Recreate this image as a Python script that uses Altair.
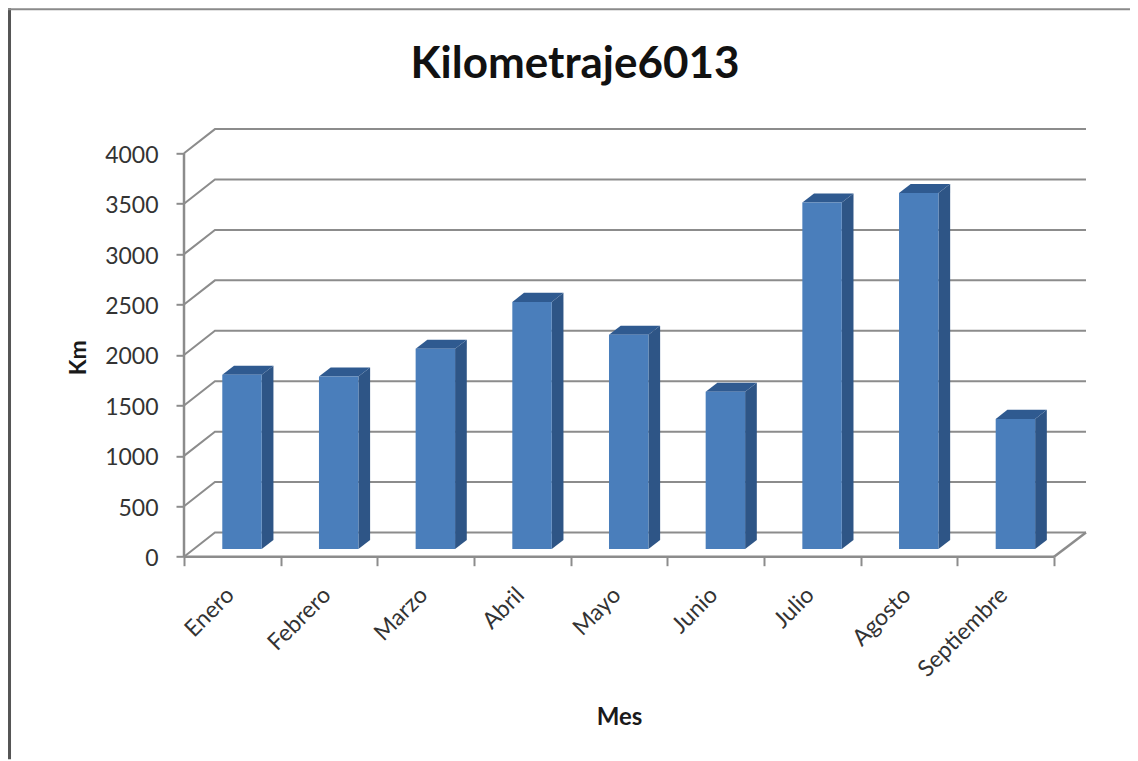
import altair as alt
import pandas as pd

months = ["Enero", "Febrero", "Marzo", "Abril", "Mayo", "Junio", "Julio", "Agosto", "Septiembre"]
km = [1727, 1710, 1985, 2450, 2125, 1560, 3435, 3530, 1290]
y_ticks = [0, 500, 1000, 1500, 2000, 2500, 3000, 3500, 4000]
x_ticks = list(range(10))

FONT = "Lato"
GRID = "#8c8c8c"
TEXT = "#1a1a1a"
DX_WALL, DY_WALL = 0.32, 240
BAR_L, BAR_W, BAR_BASE = 0.396, 0.408, 76
DX_BAR, DY_BAR = 0.121, 90
XMAX, YMAX = 9.33, 4238

xs = alt.Scale(domain=[0, XMAX], nice=False, zero=False)
ys = alt.Scale(domain=[0, YMAX], nice=False, zero=False)

# walls and floor
rows = []
for v in y_ticks:
    rows += [dict(g=v, x=0, y=v), dict(g=v, x=DX_WALL, y=v + DY_WALL), dict(g=v, x=XMAX, y=v + DY_WALL)]
grid_df = pd.DataFrame(rows)
frame_df = pd.DataFrame([
    dict(g="left", x=0, y=0), dict(g="left", x=0, y=4000),
    dict(g="front", x=0, y=0), dict(g="front", x=9, y=0),
    dict(g="floor", x=9, y=0), dict(g="floor", x=XMAX, y=DY_WALL),
])

front, side, top, labels = [], [], [], []
for i, (m, v) in enumerate(zip(months, km)):
    xl, xr, b, t = i + BAR_L, i + BAR_L + BAR_W, BAR_BASE, BAR_BASE + v
    front.append(dict(m=m, x=xl, x2=xr, y=b, y2=t))
    side += [dict(m=m, x=xr, y=t, y2=b), dict(m=m, x=xr + DX_BAR, y=t + DY_BAR, y2=b + DY_BAR)]
    top += [dict(m=m, x=xl, y=t, y2=t), dict(m=m, x=xl + DX_BAR, y=t + DY_BAR, y2=t),
            dict(m=m, x=xr, y=t + DY_BAR, y2=t), dict(m=m, x=xr + DX_BAR, y=t + DY_BAR, y2=t + DY_BAR)]
    labels.append(dict(m=m, x=i + 0.5, y=0))

X = alt.X("x:Q", scale=xs, title="Mes")
Y = alt.Y("y:Q", scale=ys, title="Km")

grid = alt.Chart(grid_df).mark_line(color=GRID, strokeWidth=2).encode(X, Y, detail="g:N")
frame = alt.Chart(frame_df).mark_line(color=GRID, strokeWidth=2.5).encode(X, Y, detail="g:N")

axes = alt.Chart(pd.DataFrame(dict(x=[0], y=[0]))).mark_point(opacity=0).encode(
    x=alt.X("x:Q", scale=xs, title="Mes", axis=alt.Axis(
        values=x_ticks, labels=False, domain=False, grid=False, tickSize=9, tickWidth=2, tickColor=GRID,
        titleFont=FONT, titleFontSize=24, titleFontWeight="bold", titleColor=TEXT,
        titleX=435, titleY=149)),
    y=alt.Y("y:Q", scale=ys, title="Km", axis=alt.Axis(
        values=y_ticks, domain=False, grid=False, tickSize=8, tickWidth=2, tickColor=GRID,
        labelFont=FONT, labelFontSize=23, labelColor="#333333", labelPadding=18, labelOffset=2, format="d",
        titleFont=FONT, titleFontSize=23, titleFontWeight="bold", titleColor=TEXT,
        titleX=-94, titleY=228)),
)

bar_front = alt.Chart(pd.DataFrame(front)).mark_rect(color="#4A7EBB").encode(
    x=alt.X("x:Q", scale=xs, title="Mes"), x2="x2:Q", y=Y, y2="y2:Q")
bar_side = alt.Chart(pd.DataFrame(side)).mark_area(color="#2E5586", opacity=1).encode(
    X, Y, y2="y2:Q", detail="m:N")
bar_top = alt.Chart(pd.DataFrame(top)).mark_area(color="#2F5A90", opacity=1).encode(
    X, Y, y2="y2:Q", detail="m:N")

month_labels = alt.Chart(pd.DataFrame(labels)).mark_text(
    font=FONT, fontSize=23, color="#333333", angle=315, align="right", baseline="middle", dx=-26, dy=23.5
).encode(X, Y, text="m:N")

border = pd.DataFrame(dict(z=[0]))
border_left = alt.Chart(border).mark_rule(color="#555555", strokeWidth=3).encode(
    x=alt.value(-174.5), y=alt.value(-121), y2=alt.value(630))
border_top = alt.Chart(border).mark_rule(color="#8a8a8a", strokeWidth=2).encode(
    x=alt.value(-176), x2=alt.value(946), y=alt.value(-120), )

chart = alt.layer(
    border_left, border_top, axes, grid, frame, bar_side, bar_top, bar_front, month_labels
).properties(
    width=902, height=427.4,
    background="white",
    title=alt.TitleParams("Kilometraje6013", font=FONT, fontSize=44, fontWeight="bold", color="#111111",
                          anchor="middle", frame="group", dx=-60, offset=-80),
    autosize=alt.AutoSizeParams(type="none"),
    padding={"left": 176, "top": 121.3, "right": 44, "bottom": 204},
).configure_view(stroke=None)

chart.save("out.html", embed_options={"renderer": "svg", "actions": False})
